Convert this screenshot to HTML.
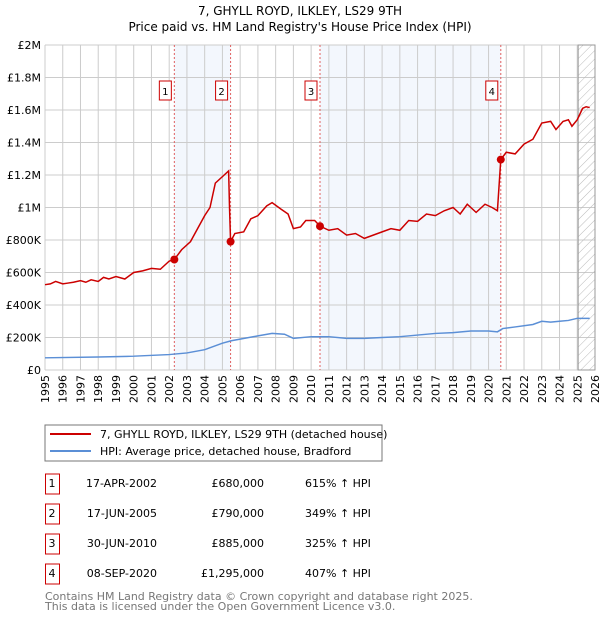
<!DOCTYPE html>
<html><head><meta charset="utf-8"><style>
body{margin:0;background:#fff;font-family:"Liberation Sans","DejaVu Sans",sans-serif;}
svg text{font-family:"DejaVu Sans","Liberation Sans",sans-serif;}
</style></head><body>
<svg id="c" width="600" height="620" xmlns="http://www.w3.org/2000/svg">
<defs><pattern id="hatch" width="6" height="6" patternUnits="userSpaceOnUse" patternTransform="rotate(45)"><line x1="0" y1="0" x2="0" y2="6" stroke="#bbb" stroke-width="1"/></pattern></defs>
<text x="300" y="15" text-anchor="middle" font-size="12">7, GHYLL ROYD, ILKLEY, LS29 9TH</text>
<text x="300" y="31" text-anchor="middle" font-size="12">Price paid vs. HM Land Registry's House Price Index (HPI)</text>
<g id="plot"></g>
<rect x="45" y="425" width="337" height="36" fill="#fff" stroke="#777"/>
<line x1="50" y1="434" x2="91" y2="434" stroke="#cc0000" stroke-width="2"/>
<text x="100" y="438" font-size="11">7, GHYLL ROYD, ILKLEY, LS29 9TH (detached house)</text>
<line x1="50" y1="451" x2="91" y2="451" stroke="#5b8fd6" stroke-width="2"/>
<text x="100" y="455" font-size="11">HPI: Average price, detached house, Bradford</text>
<g id="tbl"></g>
<text x="45" y="600" font-size="11" fill="#777">Contains HM Land Registry data © Crown copyright and database right 2025.</text>
<text x="45" y="610" font-size="11" fill="#777">This data is licensed under the Open Government Licence v3.0.</text>
</svg>
<script>
const yTicks=[0,200,400,600,800,1000,1200,1400,1600,1800,2000];
const yTickLabels=["£0","£200K","£400K","£600K","£800K","£1M","£1.2M","£1.4M","£1.6M","£1.8M","£2M"];
const years=[1995,1996,1997,1998,1999,2000,2001,2002,2003,2004,2005,2006,2007,2008,2009,2010,2011,2012,2013,2014,2015,2016,2017,2018,2019,2020,2021,2022,2023,2024,2025,2026];
const saleTimes=[2002.29,2005.46,2010.5,2020.69];
const salePrices=[680,790,885,1295];
const saleLabels=["1","2","3","4"];
const saleDates=["17-APR-2002","17-JUN-2005","30-JUN-2010","08-SEP-2020"];
const salePriceText=["£680,000","£790,000","£885,000","£1,295,000"];
const salePct=["615% ↑ HPI","349% ↑ HPI","325% ↑ HPI","407% ↑ HPI"];
const redT=[1995,1995.3,1995.6,1996,1996.3,1996.6,1997,1997.3,1997.6,1998,1998.3,1998.6,1999,1999.5,2000,2000.5,2001,2001.5,2002,2002.29,2002.7,2003.2,2003.6,2004,2004.3,2004.6,2005,2005.35,2005.4,2005.46,2005.7,2006.2,2006.6,2007,2007.5,2007.8,2008.3,2008.7,2009,2009.4,2009.7,2010.2,2010.5,2011,2011.5,2012,2012.5,2013,2013.5,2014,2014.5,2015,2015.5,2016,2016.5,2017,2017.5,2018,2018.4,2018.8,2019.3,2019.8,2020.2,2020.5,2020.69,2021,2021.5,2022,2022.5,2023,2023.5,2023.8,2024.2,2024.5,2024.7,2025,2025.3,2025.5,2025.7];
const redV=[525,530,545,530,535,540,550,540,555,545,570,560,575,560,600,610,625,620,670,680,740,790,870,950,1000,1150,1190,1225,1000,790,840,850,930,950,1010,1030,990,960,870,880,920,920,885,860,870,830,840,810,830,850,870,860,920,915,960,950,980,1000,960,1020,970,1020,1000,980,1295,1340,1330,1390,1420,1520,1530,1480,1530,1540,1500,1540,1610,1620,1615];
const blueT=[1995,1998,2000,2002,2003,2004,2005,2005.5,2006,2007,2007.8,2008.5,2009,2010,2011,2012,2013,2014,2015,2016,2017,2018,2019,2020,2020.5,2020.8,2021.5,2022.5,2023,2023.5,2024,2024.5,2025,2025.7];
const blueV=[75,80,85,95,105,125,165,180,190,210,225,220,195,205,205,195,195,200,205,215,225,230,240,240,235,255,265,280,300,295,300,305,318,318];
const NS="http://www.w3.org/2000/svg";
const L=45,R=595,T=45,B=370;
const xs=t=>L+(t-1995)/(2026-1995)*(R-L);
const ys=v=>B-v/2000*(B-T);
const plot=document.getElementById('plot');
function mk(tag,attrs,parent){const e=document.createElementNS(NS,tag);for(const k in attrs)e.setAttribute(k,attrs[k]);(parent||plot).appendChild(e);return e;}
let s1=mk('rect',{x:xs(saleTimes[0]),y:T,width:xs(saleTimes[1])-xs(saleTimes[0]),height:B-T,fill:'#eef3fc',opacity:0.7});


let s2=mk('rect',{x:xs(saleTimes[2]),y:T,width:xs(saleTimes[3])-xs(saleTimes[2]),height:B-T,fill:'#eef3fc',opacity:0.7});


years.forEach(y=>{let g=mk('line',{x1:xs(y),x2:xs(y),y1:T,y2:B,stroke:'#ccc'});


let t=mk('text',{x:0,y:0,'text-anchor':'end','font-size':11,transform:'translate('+(xs(y)+4)+','+(B+5)+') rotate(-90)'});t.textContent=y;

});
yTicks.forEach((v,i)=>{let g=mk('line',{x1:L,x2:R,y1:ys(v),y2:ys(v),stroke:'#ccc'});


let t=mk('text',{x:L-4,y:ys(v)+4,'text-anchor':'end','font-size':11});t.textContent=yTickLabels[i];

});
let h=mk('rect',{x:xs(2025.05),y:T,width:R-xs(2025.05),height:B-T,fill:'url(#hatch)',stroke:'#999'});


saleTimes.forEach((t,i)=>{let l=mk('line',{x1:xs(t),x2:xs(t),y1:T,y2:B,stroke:'#e06060','stroke-dasharray':'2,2'});


let r=mk('rect',{x:xs(t)-15,y:81,width:12,height:19,fill:'#fff',stroke:'#cc0000'});


let tx=mk('text',{x:xs(t)-9,y:95,'text-anchor':'middle','font-size':10});tx.textContent=saleLabels[i];

});
let bp=mk('polyline',{points:blueT.map((t,i)=>xs(t)+','+ys(blueV[i])).join(' '),fill:'none',stroke:'#5b8fd6','stroke-width':1.5});


let rp=mk('polyline',{points:redT.map((t,i)=>xs(t)+','+ys(redV[i])).join(' '),fill:'none',stroke:'#cc0000','stroke-width':1.5});


saleTimes.forEach((t,i)=>{let c=mk('circle',{cx:xs(t),cy:ys(salePrices[i]),r:4,fill:'#cc0000'});

});
const tbl=document.getElementById('tbl');
saleTimes.forEach((t,i)=>{const cy=483+i*30;
let r=mk('rect',{x:45.5,y:cy-9,width:14,height:20,fill:'#fff',stroke:'#cc0000'},tbl);


let a=mk('text',{x:52,y:cy+4,'text-anchor':'middle','font-size':11},tbl);a.textContent=saleLabels[i];


let d=mk('text',{x:157,y:cy+4,'text-anchor':'end','font-size':11},tbl);d.textContent=saleDates[i];


let p=mk('text',{x:264,y:cy+4,'text-anchor':'end','font-size':11},tbl);p.textContent=salePriceText[i];


let q=mk('text',{x:305,y:cy+4,'font-size':11},tbl);q.textContent=salePct[i];

});
</script>
</body></html>
